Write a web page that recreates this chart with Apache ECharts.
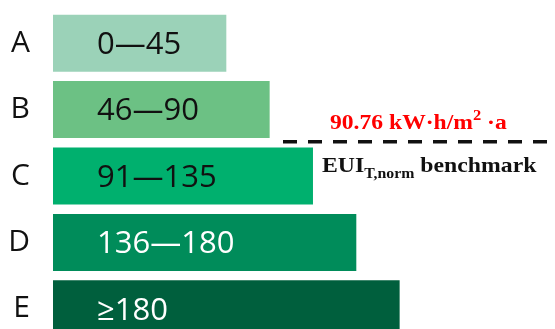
<!DOCTYPE html>
<html>
<head>
<meta charset="utf-8">
<script src="https://cdn.jsdelivr.net/npm/echarts@6/dist/echarts.min.js"></script>
<style>
html,body{margin:0;padding:0;background:#fff;}
#c{width:555px;height:329px;}
</style>
</head>
<body>
<div id="c"></div>
<script>
const categories = ['A', 'B', 'C', 'D', 'E'];
const barLengths = [4, 5, 6, 7, 8];
const rangeLabels = ['0—45', '46—90', '91—135', '136—180', '≥180'];
const barColors = ['#9bd2b8', '#6cc184', '#00b06e', '#008c5a', '#005f3d'];
const labelColors = ['#111111', '#111111', '#111111', '#ffffff', '#ffffff'];
const benchmarkText = '90.76 kW·h/m';
const benchmarkUnitTail = ' ·a';

const chart = echarts.init(document.getElementById('c'));
chart.setOption({
  animation: false,
  grid: { left: 53, width: 433.3, top: 10, height: 332, containLabel: false, outerBoundsMode: 'none' },
  xAxis: { type: 'value', min: 0, max: 10, show: false },
  yAxis: {
    type: 'category', data: categories, inverse: true,
    axisLine: { show: false }, axisTick: { show: false }, splitLine: { show: false },
    axisLabel: { fontFamily: 'Open Sans', fontSize: 30, color: '#111111', margin: 23 }
  },
  series: [{
    type: 'bar', barWidth: 57,
    data: categories.map((c, i) => ({
      value: barLengths[i],
      itemStyle: { color: barColors[i] },
      label: { color: labelColors[i], formatter: rangeLabels[i] }
    })),
    label: {
      show: true, position: [44, '50%'], offset: [0, 2], align: 'left', verticalAlign: 'middle',
      fontFamily: 'Open Sans', fontSize: 31
    }
  }]
});

const yB = chart.convertToPixel({ yAxisIndex: 0 }, 'B');
const yC = chart.convertToPixel({ yAxisIndex: 0 }, 'C');
const lineY = (yB + yC) / 2 - 1;

chart.setOption({
  graphic: [
    {
      type: 'line', shape: { x1: 283, y1: lineY, x2: 548, y2: lineY },
      style: { stroke: '#111111', lineWidth: 3.5, lineDash: [14, 11] }, z: 10
    },
    {
      type: 'text', x: 330, y: lineY - 20, scaleX: 1.18, z: 10,
      style: {
        x: 0, y: 0,
        text: '{m|' + benchmarkText + '}{s|2}{m|' + benchmarkUnitTail + '}',
        verticalAlign: 'middle',
        rich: {
          m: { fontFamily: 'Liberation Serif', fontWeight: 'bold', fontSize: 20, fill: '#ff0000', color: '#ff0000', lineHeight: 24, verticalAlign: 'bottom' },
          s: { fontFamily: 'Liberation Serif', fontWeight: 'bold', fontSize: 14, fill: '#ff0000', color: '#ff0000', lineHeight: 24, verticalAlign: 'top' }
        }
      }
    },
    {
      type: 'text', x: 322, y: lineY + 27, scaleX: 1.13, z: 10,
      style: {
        x: 0, y: 0,
        text: '{m|EUI}{s|T,norm}{m| benchmark}',
        verticalAlign: 'middle',
        rich: {
          m: { fontFamily: 'Liberation Serif', fontWeight: 'bold', fontSize: 21, fill: '#111111', color: '#111111', lineHeight: 26, verticalAlign: 'top' },
          s: { fontFamily: 'Liberation Serif', fontWeight: 'bold', fontSize: 14, fill: '#111111', color: '#111111', lineHeight: 26, verticalAlign: 'bottom' }
        }
      }
    }
  ]
});
</script>
</body>
</html>
